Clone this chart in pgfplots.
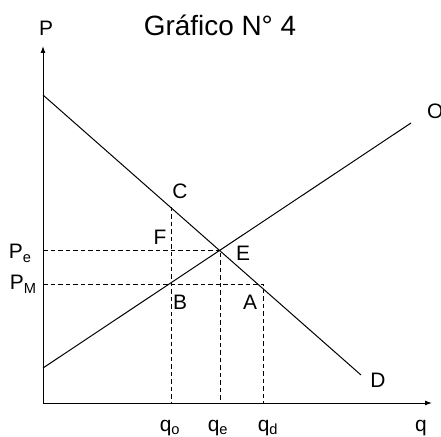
\documentclass[border=0pt]{standalone}
\usepackage{fontspec}
\setmainfont{Liberation Sans}
\usepackage{pgfplots}
\usetikzlibrary{arrows.meta}
\pgfplotsset{compat=1.18}
\tikzset{lbl/.style={font=\fontsize{21}{23}\selectfont, anchor=base}}

\begin{document}
\begin{tikzpicture}
\begin{axis}[
    at={(0,0)}, anchor=origin,
    scale only axis,
    width=389bp, height=357bp,
    xmin=0, xmax=389,
    ymin=0, ymax=357,
    axis lines=left,
    axis line style={line width=1pt, -{Latex[length=7bp,width=5bp]}},
    ticks=none,
    clip=false,
]
% demanda D y oferta O
\addplot[black, no markers, line width=1pt] coordinates {(0,308) (318,28)};
\addplot[black, no markers, line width=1pt] coordinates {(0,35) (368,280)};

% guias punteadas
\addplot[black, no markers, dash pattern=on 4.5bp off 3bp, line width=0.75pt] coordinates {(0,153) (177,153) (177,0)};
\addplot[black, no markers, dash pattern=on 4.5bp off 3bp, line width=0.75pt] coordinates {(0,119) (220,119) (220,0)};
\addplot[black, no markers, dash pattern=on 4.5bp off 3bp, line width=0.75pt] coordinates {(128,196) (128,0)};

% textos
\node[font=\fontsize{28}{30}\selectfont, anchor=base] at (axis cs:177,367) {Gráfico N° 4};
\node[lbl] at (axis cs:3,367) {P};
\node[lbl, anchor=base east] at (axis cs:-8,144) {P\textsubscript{e}};
\node[lbl, anchor=base east] at (axis cs:-3,113) {P\textsubscript{M}};
\node[lbl] at (axis cs:137,204) {C};
\node[lbl] at (axis cs:117,158) {F};
\node[lbl] at (axis cs:200,142) {E};
\node[lbl] at (axis cs:137,93) {B};
\node[lbl] at (axis cs:207,93) {A};
\node[lbl] at (axis cs:335,16) {D};
\node[lbl, anchor=base west, inner sep=0pt] at (axis cs:384,284) {O};
\node[lbl] at (axis cs:127,-28) {q\textsubscript{o}};
\node[lbl] at (axis cs:175,-28) {q\textsubscript{e}};
\node[lbl] at (axis cs:225,-28) {q\textsubscript{d}};
\node[lbl] at (axis cs:378,-28) {q};
\end{axis}
\pgfresetboundingbox
\useasboundingbox (-43bp,-34bp) rectangle (398bp,403bp);
\end{tikzpicture}
\end{document}
